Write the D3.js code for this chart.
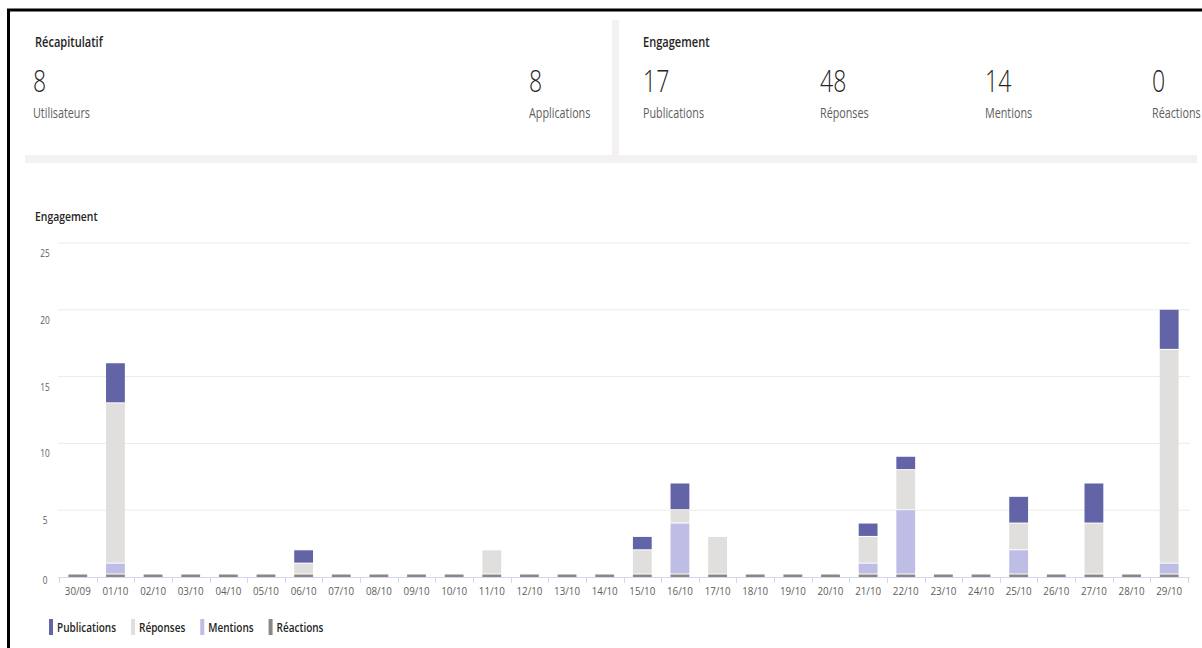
<!DOCTYPE html>
<html><head><meta charset="utf-8">
<script src="https://cdn.jsdelivr.net/npm/d3@7"></script>
<style>
html,body{margin:0;padding:0;background:#fff;}
svg{display:block;}
text{font-family:"Open Sans","Noto Sans",sans-serif;}
</style></head>
<body>
<svg id="c" width="1202" height="648"></svg>
<script>
// ---- data ----
const summaryTitle = "Récapitulatif";
const summaryLabels = ["Utilisateurs", "Applications"];
const summaryValues = [8, 8];
const engagementTitle = "Engagement";
const engagementLabels = ["Publications", "Réponses", "Mentions", "Réactions"];
const engagementValues = [17, 48, 14, 0];

const categories = ["30/09","01/10","02/10","03/10","04/10","05/10","06/10","07/10","08/10","09/10","10/10",
  "11/10","12/10","13/10","14/10","15/10","16/10","17/10","18/10","19/10","20/10","21/10","22/10","23/10",
  "24/10","25/10","26/10","27/10","28/10","29/10"];
const reactions    = [0,0,0,0,0,0,0,0,0,0,0,0,0,0,0,0,0,0,0,0,0,0,0,0,0,0,0,0,0,0];
const mentions     = [0,1,0,0,0,0,0,0,0,0,0,0,0,0,0,0,4,0,0,0,0,1,5,0,0,2,0,0,0,1];
const responses    = [0,12,0,0,0,0,1,0,0,0,0,2,0,0,0,2,1,3,0,0,0,2,3,0,0,2,0,4,0,16];
const publications = [0,3,0,0,0,0,1,0,0,0,0,0,0,0,0,1,2,0,0,0,0,1,1,0,0,2,0,3,0,3];
const yTicks = [0,5,10,15,20,25];
const seriesNames = ["Publications","Réponses","Mentions","Réactions"];
const seriesColors = ["#6264a7","#e1dfdd","#bdbde6","#8a8886"];

// ---- drawing ----
const svg = d3.select("#c");
function txt(g, x, y, s, o) {
  o = o || {};
  return g.append("text")
    .attr("transform", `translate(${x},${y}) scale(${o.sx || 0.75},1)`)
    .attr("text-anchor", o.anchor || "start")
    .attr("font-size", o.size || 12)
    .attr("font-weight", o.weight || 400)
    .attr("fill", o.fill || "#252423")
    .text(s);
}

svg.append("rect").attr("width",1202).attr("height",648).attr("fill","#fff");

// summary panels
svg.append("rect").attr("x",25).attr("y",155).attr("width",1172).attr("height",8).attr("fill","#f3f2f1");
svg.append("rect").attr("x",612).attr("y",20).attr("width",7).attr("height",143).attr("fill","#f3f2f1");

txt(svg, 35, 47, summaryTitle, {size:14, weight:600, sx:0.79});
const sumX = [33, 529];
summaryValues.forEach((v,i)=>{
  txt(svg, sumX[i], 92, String(v), {size:32, weight:300, fill:"#252423", sx:0.72});
  txt(svg, sumX[i], 118, summaryLabels[i], {size:14, weight:400, fill:"#605e5c", sx:0.77});
});
txt(svg, 643, 47, engagementTitle, {size:14, weight:600, sx:0.79});
const engX = [643, 820, 985, 1152];
engagementValues.forEach((v,i)=>{
  txt(svg, engX[i], 92, String(v), {size:32, weight:300, fill:"#252423", sx:0.72});
  txt(svg, engX[i], 118, engagementLabels[i], {size:14, weight:400, fill:"#605e5c", sx:0.77});
});

// chart
txt(svg, 35, 221, engagementTitle, {size:13, weight:600, sx:0.8});
const y = d3.scaleLinear().domain([0,25]).range([577,243]);
const x = d3.scaleBand().domain(categories).range([59,1188]).paddingInner(0.5).paddingOuter(0.25);

const grid = svg.append("g");
yTicks.filter(t=>t>0).forEach(t=>{
  grid.append("line").attr("x1",58).attr("x2",1190).attr("y1",y(t)).attr("y2",y(t))
    .attr("stroke","#edebe9").attr("stroke-width",1);
});
yTicks.forEach(t=>{
  txt(svg, 45, y(t)+ (t===0?7:14), String(t), {size:11, anchor:"middle", fill:"#605e5c", sx:0.75});
});

// x axis
const step = x.step();
svg.append("line").attr("x1",58).attr("x2",1190).attr("y1",577.5).attr("y2",577.5).attr("stroke","#d6d5ec");
const bounds = categories.map(c => x(c) - (step - x.bandwidth())/2);
bounds.push(x(categories[categories.length-1]) + x.bandwidth() + (step - x.bandwidth())/2);
bounds.forEach(b=>{
  svg.append("line").attr("x1",Math.round(b)+0.5).attr("x2",Math.round(b)+0.5)
    .attr("y1",577).attr("y2",583).attr("stroke","#d6d5ec");
});
categories.forEach(c=>{
  txt(svg, x(c)+x.bandwidth()/2, 595, c, {size:11.5, anchor:"middle", fill:"#605e5c", sx:0.85});
});

// bars
const bars = svg.append("g");
const stackOrder = [reactions, mentions, responses, publications];
const stackColors = [seriesColors[3], seriesColors[2], seriesColors[1], seriesColors[0]];
categories.forEach((c,i)=>{
  const bx = x(c), bw = x.bandwidth();
  const rTop = Math.min(y(reactions[i]), y(0)-2.5);
  bars.append("rect").attr("x",bx).attr("width",bw).attr("y",rTop).attr("height",y(0)-rTop).attr("fill",stackColors[0]);
  let cum = reactions[i];
  let floor = rTop - 1;
  for (let s=1; s<stackOrder.length; s++) {
    const v = stackOrder[s][i];
    if (!v) continue;
    const top = y(cum+v);
    const bottom = Math.min(y(cum), floor);
    bars.append("rect").attr("x",bx).attr("width",bw).attr("y",top).attr("height",Math.max(0,bottom-top))
      .attr("fill",stackColors[s]);
    cum += v;
    floor = top - 1;
  }
});

// legend
const lg = svg.append("g");
let lx = 49;
seriesNames.forEach((n,i)=>{
  lg.append("rect").attr("x",lx).attr("y",619).attr("width",4).attr("height",16).attr("fill",seriesColors[i]);
  const t = txt(lg, lx+8, 632, n, {size:12.5, weight:600, sx:0.8});
  const w = t.node().getComputedTextLength()*0.8;
  lx = lx + 8 + w + 15;
});

// black frame
svg.append("line").attr("x1",7).attr("x2",1202).attr("y1",10).attr("y2",10).attr("stroke","#000").attr("stroke-width",3);
svg.append("line").attr("x1",8.5).attr("x2",8.5).attr("y1",9).attr("y2",648).attr("stroke","#000").attr("stroke-width",3);
</script>
</body></html>
